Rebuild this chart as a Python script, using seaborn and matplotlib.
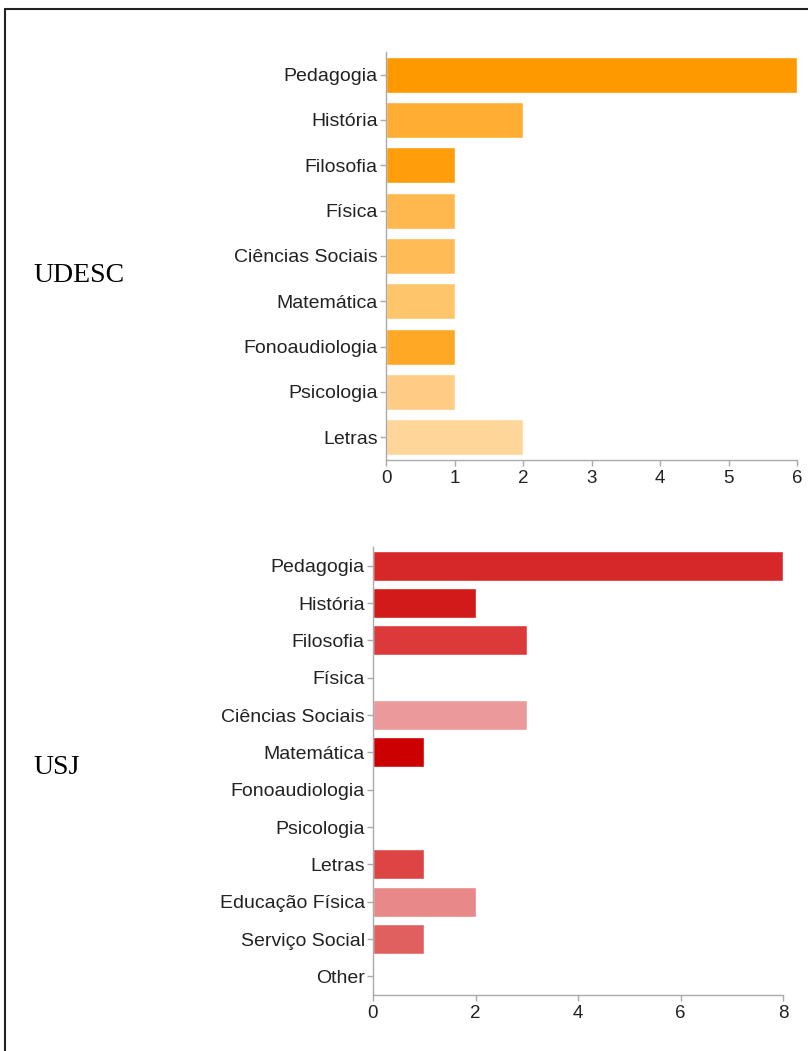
import matplotlib
matplotlib.use("Agg")
import matplotlib.pyplot as plt
import seaborn as sns
import pandas as pd
from matplotlib.lines import Line2D

# ---- data ----
udesc_courses = ["Pedagogia", "História", "Filosofia", "Física", "Ciências Sociais",
                 "Matemática", "Fonoaudiologia", "Psicologia", "Letras"]
udesc_counts = [6, 2, 1, 1, 1, 1, 1, 1, 2]
udesc_colors = ["#FF9900", "#FFAD33", "#FF9D0A", "#FFB84D", "#FFBB55",
                "#FFC56B", "#FFA826", "#FFCC85", "#FFD699"]

usj_courses = ["Pedagogia", "História", "Filosofia", "Física", "Ciências Sociais",
               "Matemática", "Fonoaudiologia", "Psicologia", "Letras",
               "Educação Física", "Serviço Social", "Other"]
usj_counts = [8, 2, 3, 0, 3, 1, 0, 0, 1, 2, 1, 0]
usj_colors = ["#D62828", "#D21A1A", "#DC3A3A", "#DDDDDD", "#EB9999", "#CC0000",
              "#DDDDDD", "#DDDDDD", "#DD4444", "#E88888", "#E06060", "#DDDDDD"]

udesc_ticks = [0, 1, 2, 3, 4, 5, 6]
usj_ticks = [0, 2, 4, 6, 8]

panel_labels = ["UDESC", "USJ"]

sns.set_theme(style="white")
plt.rcParams['font.family'] = ['Liberation Sans', 'DejaVu Sans']

W, H = 808, 1051
fig = plt.figure(figsize=(W / 100, H / 100), dpi=100)
fig.patch.set_facecolor("white")


def px_axes(left, top, right, bottom):
    return fig.add_axes([left / W, 1 - bottom / H, (right - left) / W, (bottom - top) / H])


def style_axes(ax, ticks, fs_y, fs_x):
    for s in ["top", "right"]:
        ax.spines[s].set_visible(False)
    for s in ["left", "bottom"]:
        ax.spines[s].set_color("#AAAAAA")
        ax.spines[s].set_linewidth(1.0)
    ax.set_xticks(ticks)
    ax.set_xticklabels([str(t) for t in ticks])
    ax.tick_params(axis="both", which="major", length=4, width=1, color="#AAAAAA",
                   labelcolor="#222222", pad=2, direction="out")
    ax.tick_params(axis="y", labelsize=fs_y)
    ax.tick_params(axis="x", labelsize=fs_x, pad=3)
    ax.xaxis.set_ticks_position("bottom")
    ax.yaxis.set_ticks_position("left")
    ax.set_xlabel("")
    ax.set_ylabel("")
    ax.grid(False)


# Top panel (UDESC)
ax1 = px_axes(386, 52, 797, 460)
df1 = pd.DataFrame({"curso": udesc_courses, "n": udesc_counts})
sns.barplot(data=df1, y="curso", x="n", hue="curso", palette=udesc_colors,
            legend=False, ax=ax1, width=0.8, orient="h", saturation=1)
ax1.set_xlim(0, 6)
ax1.set_ylim(len(udesc_courses) - 0.5, -0.5)
style_axes(ax1, udesc_ticks, 14, 13.5)

# Bottom panel (USJ)
ax2 = px_axes(373, 547, 783, 995)
df2 = pd.DataFrame({"curso": usj_courses, "n": usj_counts})
sns.barplot(data=df2, y="curso", x="n", hue="curso", palette=usj_colors,
            legend=False, ax=ax2, width=0.8, orient="h", saturation=1)
ax2.set_xlim(0, 8)
ax2.set_ylim(len(usj_courses) - 0.5, -0.5)
style_axes(ax2, usj_ticks, 14, 13.5)

# Panel labels
fig.text(33 / W, 1 - 275 / H, panel_labels[0], fontsize=20, family="Liberation Serif",
         va="center", ha="left", color="black")
fig.text(33 / W, 1 - 767 / H, panel_labels[1], fontsize=20, family="Liberation Serif",
         va="center", ha="left", color="black")

# Frame (top and left edges)
fig.add_artist(Line2D([5 / W, 5 / W], [1 - 9 / H, 0], transform=fig.transFigure,
                      color="#222222", linewidth=1.5))
fig.add_artist(Line2D([5 / W, 1.0], [1 - 9 / H, 1 - 9 / H], transform=fig.transFigure,
                      color="#222222", linewidth=1.5))

fig.savefig("out.png", dpi=100, facecolor="white")
